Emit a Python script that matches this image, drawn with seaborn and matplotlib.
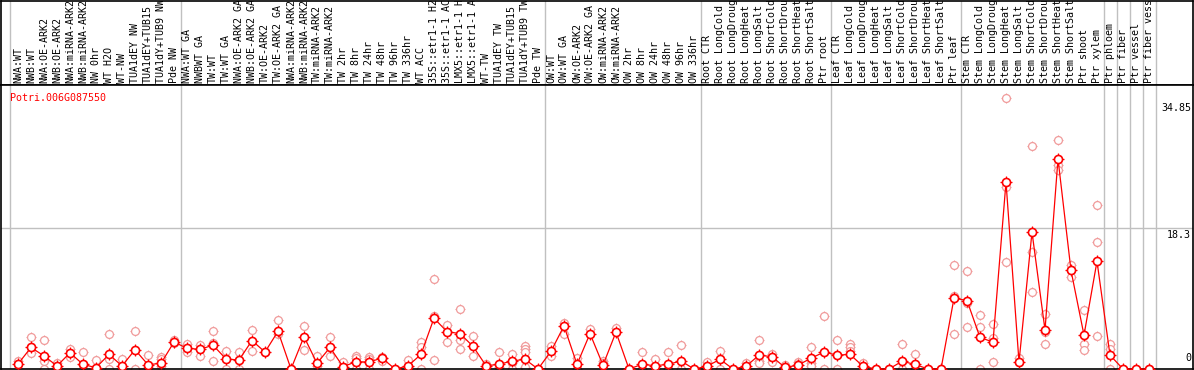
import numpy as np
import pandas as pd
import matplotlib
matplotlib.use('Agg')
import matplotlib.pyplot as plt
import seaborn as sns

sns.set_style('white')
plt.rcParams['font.family'] = ['DejaVu Sans Mono']

gene = 'Potri.006G087550'

# sample labels, grouped the way the separators split them
grupos = [
    ["NWA:WT", "NWB:WT", "NWA:OE-ARK2", "NWB:OE-ARK2", "NWA:miRNA-ARK2", "NWB:miRNA-ARK2",
     "NW 0hr", "WT H2O", "WT-NW", "TUA1dEY NW", "TUA1dEY+TUB15", "TUA1dY+TUB9 NW", "Pde NW"],
    ["NWA:WT GA", "NWBWT GA", "TW:WT", "TW:WT GA", "NWA:OE-ARK2 GA", "NWB:OE-ARK2 GA",
     "TW:OE-ARK2", "TW:OE-ARK2 GA", "NWA:miRNA-ARK2", "NWB:miRNA-ARK2", "TW:miRNA-ARK2",
     "TW:miRNA-ARK2", "TW 2hr", "TW 8hr", "TW 24hr", "TW 48hr", "TW 96hr", "TW 336hr",
     "WT ACC", "35S::etr1-1 H2O", "35S::etr1-1 ACC", "LMX5::etr1-1 H2O", "LMX5::etr1-1 ACC",
     "WT-TW", "TUA1dEY TW", "TUA1dEY+TUB15", "TUA1dY+TUB9 TW", "Pde TW"],
    ["OW:WT", "OW:WT GA", "OW:OE-ARK2", "OW:OE-ARK2 GA", "OW:miRNA-ARK2", "OW:miRNA-ARK2",
     "OW 2hr", "OW 8hr", "OW 24hr", "OW 48hr", "OW 96hr", "OW 336hr"],
    ["Root CTR", "Root LongCold", "Root LongDrought", "Root LongHeat", "Root LongSalt",
     "Root ShortCold", "Root ShortDrought", "Root ShortHeat", "Root ShortSalt", "Ptr root"],
    ["Leaf CTR", "Leaf LongCold", "Leaf LongDrought", "Leaf LongHeat", "Leaf LongSalt",
     "Leaf ShortCold", "Leaf ShortDrought", "Leaf ShortHeat", "Leaf ShortSalt", "Ptr leaf"],
    ["Stem CTR", "Stem LongCold", "Stem LongDrought", "Stem LongHeat", "Stem LongSalt",
     "Stem ShortCold", "Stem ShortDrought", "Stem ShortHeat", "Stem ShortSalt",
     "Ptr shoot", "Ptr xylem"],
    ["Ptr phloem"], ["Ptr fiber"], ["Ptr vessel"], ["Ptr fiber vessel"],
]

# mean expression per sample
medias = [0.65, 2.8, 1.7, 0.4, 2.1, 0.6, 0.17, 1.9, 0.4, 2.5, 0.56, 0.74, 3.5,
          2.7, 2.55, 3.1, 1.3, 1.17, 3.7, 2.2, 4.9, 0,
          4.2, 0.74, 2.8, 0.3, 0.95, 0.9, 1.43, 0, 0.4, 1.9, 6.6, 4.85, 4.6, 2.95,
          0.43, 0.6, 1.04, 1.26, 0, 2.3, 5.6, 0.6,
          4.6, 0.5, 4.8, 0, 0.6, 0.43, 0.6, 1.04, 0, 0.35, 1.26, 0, 0.35, 1.8, 1.6,
          0.2, 0.5, 1.4, 2.2, 1.8, 1.9, 0.35,
          0, 0, 1.0, 0.6, 0, 0, 9.2, 8.9, 4.1, 3.5, 24.3, 0.9, 17.8, 5.07, 27.3,
          12.8, 4.4, 14.0, 1.8, 0, 0, 0]

# replicate values per sample
replicas = [
    [1.0, 0.6], [4.2, 2.1], [3.8, 1.1, 0], [0.8, 0.3], [2.6, 1.5], [2.2, 0.5],
    [1.17, 0.1], [4.5, 1.3, 0], [1.3, 0], [4.9, 0], [1.8, 0.3], [1.5, 1.3, 0.4],
    [3.8, 3.4], [3.2, 2.2], [3.1, 1.7], [4.9, 3.4, 1.1], [2.3, 0], [2.2, 0],
    [5.1, 2.3], [2.2], [6.4, 4.5], [0],
    [5.55, 2.5], [1.7, 0.35], [4.2, 1.7], [0.9, 0], [1.7, 1.4, 0], [1.6, 1.3, 0],
    [1.6, 1.3, 1.1], [0], [1.2, 0.2], [3.5, 2.9, 0], [11.7, 6.9, 1.17], [5.7, 3.5],
    [7.8, 3.8, 2.6], [4.25, 1.7], [0.6, 0.3], [2.2, 0.3], [1.9, 0.74, 0],
    [3.0, 2.6, 2.2, 0.3], [0], [3.0, 1.7], [6.0, 4.5], [1.4, 0],
    [5.2], [1.0, 0.74], [5.3], [0], [2.2, 0], [1.3, 0], [2.2, 0], [3.1, 0], [0],
    [0.9, 0], [2.3, 0], [0], [0.8, 0], [3.8, 1.0, 0.74], [2.0, 0.9], [0.5, 0],
    [0.9, 0.7], [2.9, 0.8, 0.4], [6.85, 0], [3.8, 0], [3.3, 2.8, 2.4], [0.74],
    [0], [0], [3.2, 0], [1.95, 0], [0], [0], [13.5, 9.5, 4.6], [12.7, 8.6, 5.5],
    [7.0, 5.4, 0], [5.85, 4.0, 0.9], [35.2, 23.7, 13.9], [1.43, 0.9],
    [29.0, 15.2, 10.0], [7.2, 4.8, 3.2], [29.7, 26.5, 25.8], [13.5, 12.9, 12.0],
    [7.7, 3.3, 2.5], [21.3, 16.5, 4.3], [3.2, 2.6, 0], [0], [0], [0],
]

y_ticks = [34.85, 18.3, 0]

labels = [l for g in grupos for l in g]
n = len(labels)
pos = np.arange(n)

df_media = pd.DataFrame({'pos': pos, 'valor': medias})
df_rep = pd.DataFrame([(i, v) for i, r in enumerate(replicas) for v in r],
                      columns=['pos', 'valor'])

W, H = 1194, 370
fig = plt.figure(figsize=(W / 100, H / 100), dpi=100)
ax_top = fig.add_axes([1 / W, (H - 85) / H, 1192 / W, 84 / H])
ax = fig.add_axes([1 / W, 1 / H, 1192 / W, 284 / H], sharex=ax_top)

xmin, xmax = (1 - 18) / 13, (1193 - 18) / 13
ymax = 36.9

# group separators
limites = np.cumsum([len(g) for g in grupos]) - 0.5
for a in (ax, ax_top):
    for b in [-0.6] + list(limites):
        a.axvline(b, color='#c0c0c0', lw=1, zorder=0)

ax.axhline(18.3, color='#c0c0c0', lw=1, zorder=0)

rosa = '#f09a9a'
# replicates: short cross under a hollow circle
sns.scatterplot(data=df_rep, x='pos', y='valor', ax=ax, marker='+', s=62,
                color=rosa, linewidth=0.8, zorder=2, clip_on=False)
sns.scatterplot(data=df_rep, x='pos', y='valor', ax=ax, marker='o', s=32,
                facecolor='white', edgecolor=rosa, linewidth=0.9, zorder=2.1,
                clip_on=False)
# means: same marker, in red, joined by a line
sns.scatterplot(data=df_media, x='pos', y='valor', ax=ax, marker='+', s=66,
                color='red', linewidth=0.9, zorder=3, clip_on=False)
sns.lineplot(data=df_media, x='pos', y='valor', ax=ax, color='red', lw=0.9,
             zorder=3.1, clip_on=False)
sns.scatterplot(data=df_media, x='pos', y='valor', ax=ax, marker='o', s=34,
                facecolor='white', edgecolor='red', linewidth=1.2, zorder=3.2,
                clip_on=False)

ax.set_xlim(xmin, xmax)
ax.set_ylim(0, ymax)
ax.set_xticks([])
ax.set_yticks([])
ax.set_xlabel('')
ax.set_ylabel('')
for s in ax.spines.values():
    s.set_color('black')
    s.set_linewidth(1.2)

for v in y_ticks:
    if v == 0:
        ax.text(1.0 - 2 / 1192, 0.8, '0', ha='right', va='bottom',
                transform=ax.get_yaxis_transform(), fontsize=7.2, color='black')
    else:
        ax.text(1.0 - 2 / 1192, v - 0.3, f'{v:g}', ha='right', va='top',
                transform=ax.get_yaxis_transform(), fontsize=7.2, color='black')

ax.text(9 / 1192, 1 - 8 / 284, gene, transform=ax.transAxes, ha='left', va='top',
        fontsize=7.2, color='red')

# header with rotated sample names
ax_top.set_ylim(0, 1)
ax_top.set_xticks([])
ax_top.set_yticks([])
for s in ax_top.spines.values():
    s.set_color('black')
    s.set_linewidth(1.2)
for i, l in enumerate(labels):
    t = ax_top.text(i, 0.02, l, rotation=90, ha='center', va='bottom',
                    fontsize=7.2, color='black')
    t.set_clip_on(True)

fig.savefig('out.png', dpi=100)
